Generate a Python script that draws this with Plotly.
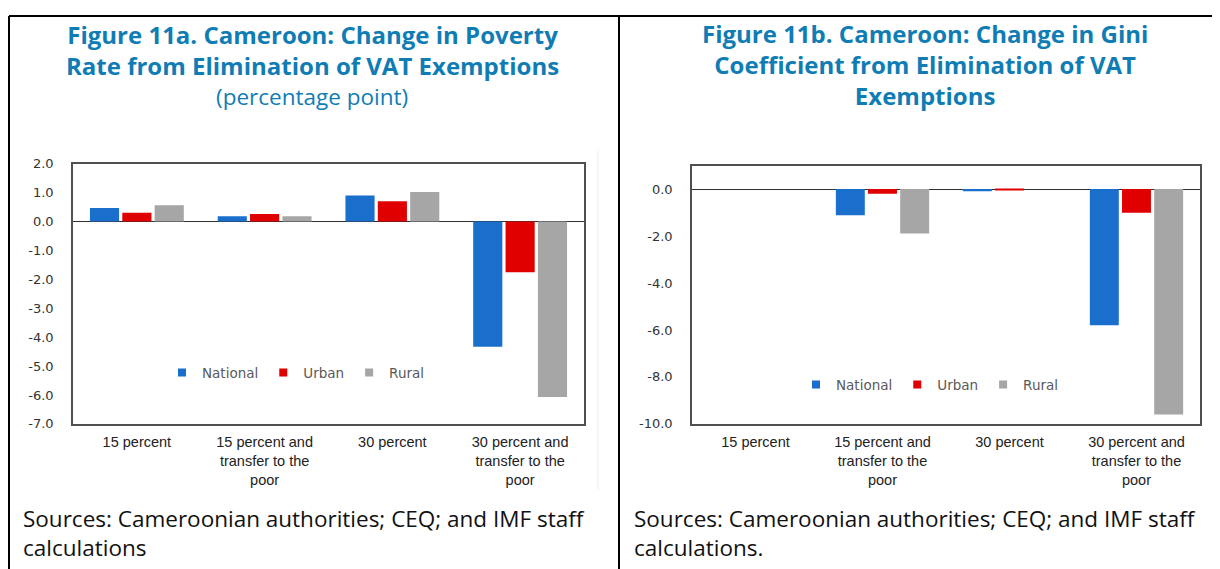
import plotly.graph_objects as go

categories = ["15 percent", "15 percent and<br>transfer to the<br>poor", "30 percent",
              "30 percent and<br>transfer to the<br>poor"]
series_names = ["National", "Urban", "Rural"]
colors = ["#1a6fcc", "#e00000", "#a6a6a6"]

poverty_national = [0.46, 0.18, 0.90, -4.33]
poverty_urban = [0.30, 0.26, 0.70, -1.76]
poverty_rural = [0.56, 0.18, 1.02, -6.07]

gini_national = [0.0, -1.11, -0.09, -5.80]
gini_urban = [0.0, -0.20, -0.04, -1.01]
gini_rural = [0.0, -1.89, 0.0, -9.60]

left_ticks = [2, 1, 0, -1, -2, -3, -4, -5, -6, -7]
right_ticks = [0, -2, -4, -6, -8, -10]

title_left = ["Figure 11a. Cameroon: Change in Poverty", "Rate from Elimination of VAT Exemptions"]
subtitle_left = "(percentage point)"
title_right = ["Figure 11b. Cameroon: Change in Gini", "Coefficient from Elimination of VAT", "Exemptions"]
source_left = ["Sources: Cameroonian authorities; CEQ; and IMF staff", "calculations"]
source_right = ["Sources: Cameroonian authorities; CEQ; and IMF staff", "calculations."]

# figure geometry (page offsets measured from earlier renders)
OFF_X, OFF_Y, SY = 8, 16, 569 / 585
FW, FH = 1204, 569
def px(x): return (x - OFF_X) / FW
def py(y): return 1 - (y / SY - OFF_Y) / FH

TITLE_COLOR = "#0f7db4"
TITLE_FONT = "Open Sans"
CAT_FONT = "Liberation Sans Narrow, Liberation Sans, Arial"
TICK_FONT = "DejaVu Sans"

fig = go.Figure()

for name, vals, col in zip(series_names, [poverty_national, poverty_urban, poverty_rural], colors):
    fig.add_trace(go.Bar(x=categories, y=vals, name=name, marker=dict(color=col, line=dict(width=0)),
                         xaxis="x", yaxis="y", showlegend=False))
for name, vals, col in zip(series_names, [gini_national, gini_urban, gini_rural], colors):
    fig.add_trace(go.Bar(x=categories, y=vals, name=name, marker=dict(color=col, line=dict(width=0)),
                         xaxis="x2", yaxis="y2", showlegend=False))
for lg, xa, ya in [("legend", "x", "y"), ("legend2", "x2", "y2")]:
    for name, col in zip(series_names, colors):
        fig.add_trace(go.Scatter(x=[None], y=[None], mode="markers", name=name,
                                 marker=dict(symbol="square", size=8, color=col),
                                 xaxis=xa, yaxis=ya, legend=lg, showlegend=True))

frame = dict(showline=True, linecolor="#505050", linewidth=1.5, mirror=True, showgrid=False, ticks="")
zero = dict(zeroline=True, zerolinecolor="#303030", zerolinewidth=1.2)

def ylabels(ticks):
    return [f"{v:.1f}" for v in ticks]

legend_common = dict(orientation="h", xanchor="center", yanchor="middle",
                     font=dict(family=TICK_FONT, size=13.5, color="#595959"),
                     bgcolor="rgba(0,0,0,0)", itemwidth=30, tracegroupgap=0)

fig.update_layout(
    width=FW, height=FH,
    margin=dict(l=0, r=0, t=0, b=0),
    paper_bgcolor="white", plot_bgcolor="white",
    barmode="group", bargap=0.24, bargroupgap=0.1,
    xaxis=dict(domain=[px(73), px(584)], anchor="y", **frame, ticklabelstandoff=4,
               tickfont=dict(family=CAT_FONT, size=14.5, color="#222")),
    yaxis=dict(domain=[py(424), py(164)], anchor="x", range=[-7, 2], tickvals=left_ticks,
               ticktext=ylabels(left_ticks), tickfont=dict(family=TICK_FONT, size=13, color="#333"),
               ticklabelstandoff=15, **frame, **zero),
    xaxis2=dict(domain=[px(692), px(1200)], anchor="y2", **frame, ticklabelstandoff=4,
                tickfont=dict(family=CAT_FONT, size=14.5, color="#222")),
    yaxis2=dict(domain=[py(424), py(166)], anchor="x2", range=[-10, 1], tickvals=right_ticks,
                ticktext=ylabels(right_ticks), tickfont=dict(family=TICK_FONT, size=13, color="#333"),
                ticklabelstandoff=15, **frame, **zero),
    legend=dict(x=px(296), y=py(373), **legend_common),
    legend2=dict(x=px(930), y=py(385), **legend_common),
    showlegend=True,
)

line = dict(color="black", width=2)
top = 1 - 1 / FH
fig.add_shape(type="line", xref="paper", yref="paper", x0=1 / FW, x1=1, y0=top, y1=top, line=line)
fig.add_shape(type="line", xref="paper", yref="paper", x0=1 / FW, x1=1 / FW, y0=top, y1=0, line=line)
fig.add_shape(type="line", xref="paper", yref="paper", x0=px(619), x1=px(619), y0=top, y1=0, line=line)
fig.add_shape(type="line", xref="paper", yref="paper", x0=px(598), x1=px(598), y0=py(150), y1=py(490),
              line=dict(color="#eeeeee", width=1))

def ann(text, x, y, size, bold=False, color=TITLE_COLOR, xanchor="center", family=TITLE_FONT,
        align="center"):
    t = f"<b>{text}</b>" if bold else text
    fig.add_annotation(text=t, x=px(x), y=py(y), xref="paper", yref="paper", showarrow=False,
                       xanchor=xanchor, yanchor="middle", align=align,
                       font=dict(family=family, size=size, color=color))

TS = 24
ann("<br>".join(title_left), 312, 50.5, TS, bold=True)
ann(subtitle_left, 312, 96.5, 22.5)
ann("<br>".join(title_right), 925, 65.5, TS, bold=True)

SS = 22.5
ann("<br>".join(source_left), 21, 533.5, SS, color="#111", xanchor="left", align="left")
ann("<br>".join(source_right), 632, 533.5, SS, color="#111", xanchor="left", align="left")

fig.write_html("out.html")
